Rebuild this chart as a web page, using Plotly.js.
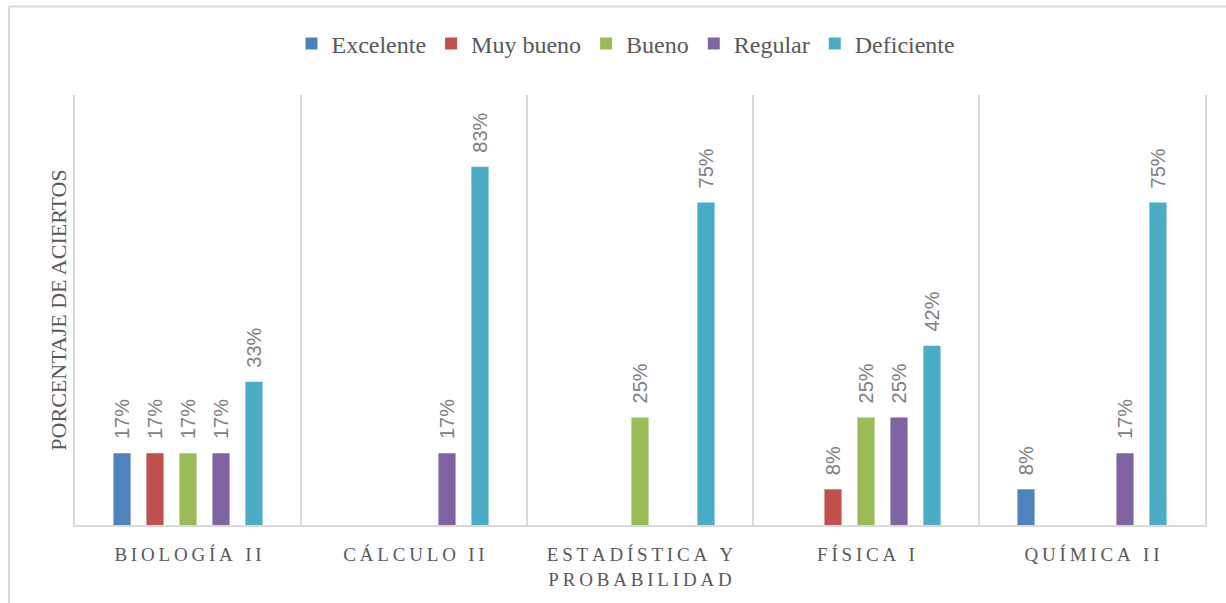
<!DOCTYPE html>
<html>
<head>
<meta charset="utf-8">
<script src="https://cdn.plot.ly/plotly-3.0.1.min.js"></script>
<style>html,body{margin:0;padding:0;background:#fff;}#chart{width:1226px;height:603px;}</style>
</head>
<body>
<div id="chart"></div>
<script>
const categories = ["BIOLOGÍA II", "CÁLCULO II", "ESTADÍSTICA Y PROBABILIDAD", "FÍSICA I", "QUÍMICA II"];
const tickLabels = ["BIOLOGÍA II", "CÁLCULO II", "ESTADÍSTICA Y<br>PROBABILIDAD", "FÍSICA I", "QUÍMICA II"];
const seriesNames = ["Excelente", "Muy bueno", "Bueno", "Regular", "Deficiente"];
const excelente  = [0.167, null, null, null, 0.083];
const muyBueno   = [0.167, null, null, 0.083, null];
const bueno      = [0.167, null, 0.25, 0.25, null];
const regular    = [0.167, 0.167, null, 0.25, 0.167];
const deficiente = [0.333, 0.833, 0.75, 0.417, 0.75];
const colors = ["#4F81BD", "#C0504D", "#9BBB59", "#8064A2", "#4BACC6"];
const seriesValues = [excelente, muyBueno, bueno, regular, deficiente];

function spaced(s) {
  return s.split("<br>").map(line => Array.from(line).join("\u2009")).join("<br>");
}

const traces = seriesValues.map((vals, i) => ({
  type: "bar",
  name: seriesNames[i],
  x: categories,
  y: vals,
  marker: {color: colors[i], line: {width: 0}},
  texttemplate: "\u00a0\u00a0%{y:.0%}",
  textposition: "outside",
  textangle: -90,
  constraintext: "none",
  cliponaxis: false,
  outsidetextfont: {family: "Liberation Sans, Arial, sans-serif", size: 20, color: "#808080"},
  hoverinfo: "none"
}));

const layout = {
  width: 1226, height: 603,
  margin: {l: 75, r: 21, t: 95, b: 78},
  paper_bgcolor: "#ffffff", plot_bgcolor: "#ffffff",
  barmode: "group",
  bargap: 0.27,
  bargroupgap: 0.48,
  showlegend: true,
  legend: {
    orientation: "h", x: 0.4876, xanchor: "center", y: 1.1186, yanchor: "middle",
    font: {family: "Liberation Serif, serif", size: 24, color: "#595959"},
    itemclick: false
  },
  xaxis: {
    type: "category",
    tickmode: "array",
    tickvals: categories,
    ticktext: tickLabels.map(spaced),
    tickson: "boundaries",
    ticklen: 0,
    showgrid: true, gridcolor: "#d9d9d9", gridwidth: 2,
    showline: true, linecolor: "#d9d9d9", linewidth: 2,
    tickfont: {family: "Liberation Serif, serif", size: 19, color: "#595959"},
    ticklabelstandoff: 11,
    range: [-0.5, 4.5]
  },
  yaxis: {
    range: [0, 1],
    showticklabels: false, ticks: "",
    showgrid: false, zeroline: false,
    showline: true, mirror: true, linecolor: "#d9d9d9", linewidth: 2,
    title: {text: "PORCENTAJE DE ACIERTOS", standoff: 0,
            font: {family: "Liberation Serif, serif", size: 22, color: "#595959"}}
  },
  shapes: [
    {type: "line", xref: "paper", yref: "paper", x0: -0.0584, x1: -0.0584, y0: 1.2058, y1: -0.3, line: {color: "#d9d9d9", width: 2}},
    {type: "line", xref: "paper", yref: "paper", x0: -0.0584, x1: 1.1, y0: 1.2058, y1: 1.2058, line: {color: "#d9d9d9", width: 2}}
  ]
};

Plotly.newPlot("chart", traces, layout, {displayModeBar: false, staticPlot: true});
</script>
</body>
</html>
